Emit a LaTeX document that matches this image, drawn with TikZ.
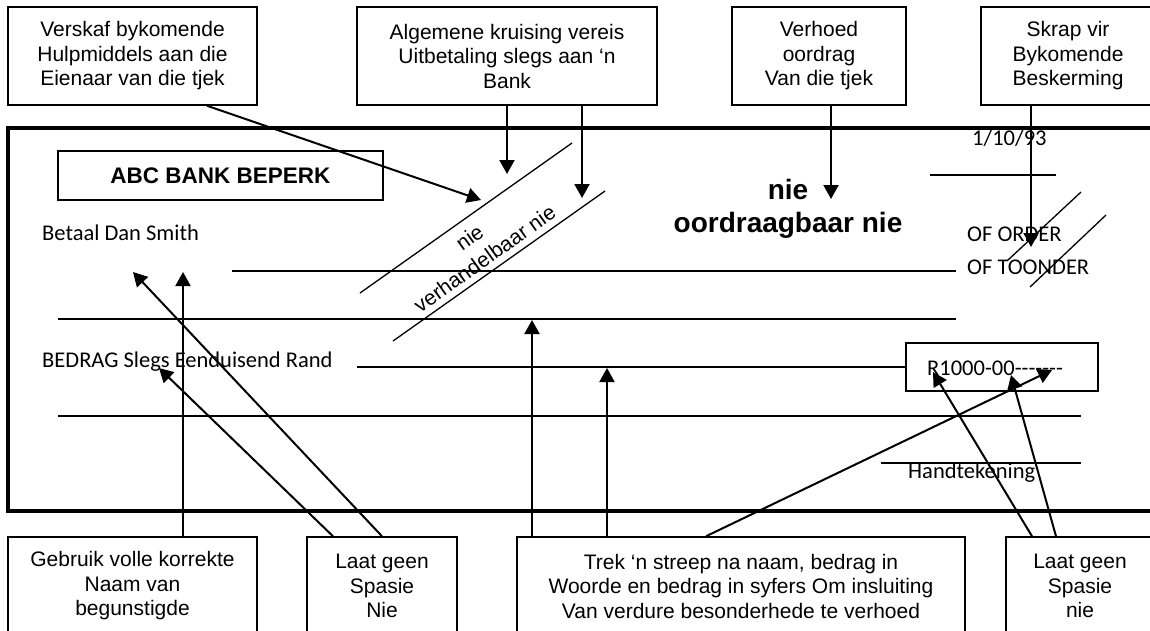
\documentclass[tikz,border=0pt]{standalone}
\usepackage{fontspec}
\setmainfont{Liberation Sans}
\newfontfamily\calfont[Ligatures=TeXOff]{Carlito}
\usetikzlibrary{arrows.meta}
\begin{document}
\begin{tikzpicture}[x=1pt,y=-1pt,
  box/.style={draw, line width=1.5pt, align=center, inner sep=0pt, font=\fontsize{21}{24.5}\selectfont},
  arr/.style={line width=2pt, -{Triangle[length=14pt,width=15pt]}},
  thinline/.style={line width=1.3pt},
  cal/.style={font=\calfont\fontsize{22.5}{27}\selectfont, inner sep=0pt, anchor=west},
]
\useasboundingbox (0,0) rectangle (1150,630);
\fill[white] (0,0) rectangle (1150,630);

% top boxes
\node[box, minimum width=249pt, minimum height=98pt] (t1) at (132.5,56) {Verskaf bykomende\\Hulpmiddels aan die\\Eienaar van die tjek};
\node[box, minimum width=300pt, minimum height=98pt] (t2) at (507,56) {Algemene kruising vereis\\Uitbetaling slegs aan ‘n\\Bank};
\node[box, minimum width=174pt, minimum height=98pt] (t3) at (819,56) {Verhoed\\oordrag\\Van die tjek};
\node[box, minimum width=174pt, minimum height=98pt] (t4) at (1068,56) {Skrap vir\\Bykomende\\Beskerming};

% cheque
\node[draw, line width=3.5pt, minimum width=1152pt, minimum height=383pt, inner sep=0pt] (cheque) at (584,319.5) {};
\node[draw, line width=1.5pt, minimum width=325pt, minimum height=49pt, inner sep=0pt,
      font=\bfseries\fontsize{22.5}{27}\selectfont] (abc) at (220.5,175.5) {ABC BANK BEPERK};

\node[cal] (betaal) at (42,233) {Betaal Dan Smith};
\node[cal] (bedrag) at (42,362) {BEDRAG Slegs Eenduisend Rand};
\node[cal] (date) at (972,138) {1/10/93};
\node[cal] (order) at (967,234) {OF ORDER};
\node[cal] (toonder) at (967,267) {OF TOONDER};
\node[cal] (hand) at (908,473) {Handtekening};

\node[draw, line width=1.5pt, minimum width=192pt, minimum height=48pt, inner sep=0pt] (rbox) at (1002,367) {};
\node[cal] (rtext) at (927,368) {R1000-00-------};

\node[align=center, inner sep=0pt, font=\bfseries\fontsize{28}{33}\selectfont] (nie) at (788,209) {nie\\oordraagbaar nie};
\node[align=center, inner sep=0pt, rotate=35.5, font=\fontsize{21}{26}\selectfont] (verh) at (477,248) {nie\\verhandelbaar nie};

% cheque lines
\draw[thinline] (930,175) -- (1056,175);
\draw[thinline] (232,271) -- (956,271);
\draw[thinline] (58,319) -- (956,319);
\draw[thinline] (357,367) -- (rbox.west);
\draw[thinline] (58,416) -- (1081,416);
\draw[thinline] (881,463) -- (1081,463);
\draw[thinline] (360,293) -- (572,143);
\draw[thinline] (393,341) -- (605,191);
\draw[thinline] (1008,260) -- (1081,192);
\draw[thinline] (1030,287) -- (1106,215);

% bottom boxes
\node[box, minimum width=249pt, minimum height=98pt] (b1) at (132.5,586) {Gebruik volle korrekte\\Naam van\\begunstigde};
\node[box, minimum width=150pt, minimum height=98pt] (b2) at (382,586) {Laat geen\\Spasie\\Nie};
\node[box, minimum width=448pt, minimum height=98pt] (b3) at (741,586) {Trek ‘n streep na naam, bedrag in\\Woorde en bedrag in syfers Om insluiting\\Van verdure besonderhede te verhoed};
\node[box, minimum width=148pt, minimum height=98pt] (b4) at (1080,586) {Laat geen\\Spasie\\nie};

% arrow tips
\coordinate (a1tip) at (481,200);
\coordinate (a2tip) at (507,174);
\coordinate (a3tip) at (582,198);
\coordinate (a4tip) at (831,199);
\coordinate (a5tip) at (1031,247);
\coordinate (b1tip) at (183,272);
\coordinate (b2tipa) at (133,272);
\coordinate (b2tipb) at (159,368);
\coordinate (b3tipa) at (532,320);
\coordinate (b3tipb) at (607,368);
\coordinate (b3tipc) at (1052,370);
\coordinate (b4tipa) at (933,372);
\coordinate (b4tipb) at (1011,375);

% top arrows
\draw[arr] ([xshift=74.5pt]t1.south) -- (a1tip);
\draw[arr] (t2.south -| a2tip) -- (a2tip);
\draw[arr] (t2.south -| a3tip) -- (a3tip);
\draw[arr] (t3.south -| a4tip) -- (a4tip);
\draw[arr] (t4.south -| a5tip) -- (a5tip);

% bottom arrows
\draw[arr] (b1.north -| b1tip) -- (b1tip);
\draw[arr] (b2.north) -- (b2tipa);
\draw[arr] ([xshift=-49pt]b2.north) -- (b2tipb);
\draw[arr] (b3.north -| b3tipa) -- (b3tipa);
\draw[arr] (b3.north -| b3tipb) -- (b3tipb);
\draw[arr] ([xshift=-35pt]b3.north) -- (b3tipc);
\draw[arr] ([xshift=-48pt]b4.north) -- (b4tipa);
\draw[arr] ([xshift=-24pt]b4.north) -- (b4tipb);
\end{tikzpicture}
\end{document}
